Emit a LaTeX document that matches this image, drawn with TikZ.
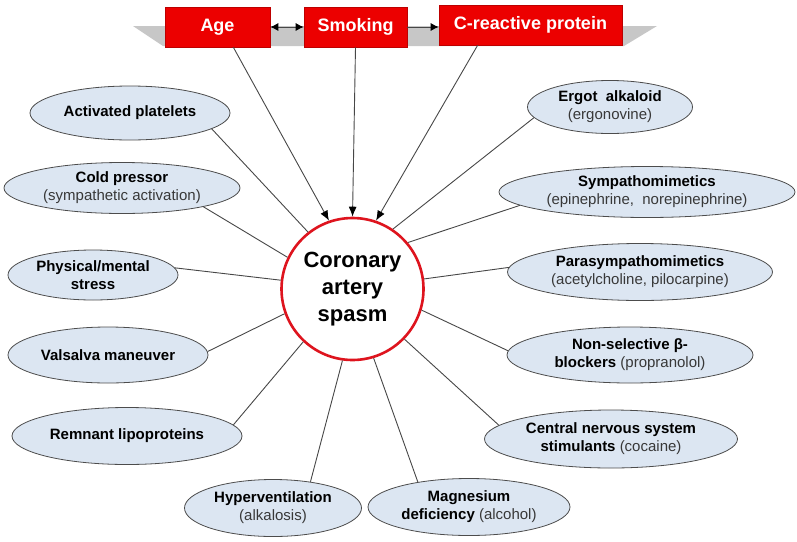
\documentclass[tikz,border=0pt]{standalone}
\usepackage{xcolor}
\usepackage{tikz}
\usepackage{fontspec}
\setmainfont{Liberation Sans}
\setsansfont{Liberation Sans}
\usetikzlibrary{calc}
\usetikzlibrary{shapes.geometric, arrows.meta, positioning}

\definecolor{paleblue}{RGB}{220,230,242}
\definecolor{boxred}{RGB}{236,0,0}
\definecolor{ringred}{RGB}{222,20,30}
\newcommand{\drug}[1]{\textcolor{black!78}{#1}}

\begin{document}
\begin{tikzpicture}[x=1pt,y=-1pt,-,
                    cause node/.style={ellipse,draw=black!70,line width=0.8pt,fill=paleblue,inner sep=0pt,
                                       align=center,font=\sffamily\fontsize{15}{18}\selectfont},
                    risk node/.style={rectangle,fill=boxred,draw=boxred!80!black,line width=0.6pt,inner sep=0pt,
                                      text=white,font=\sffamily\bfseries\fontsize{18}{20}\selectfont},
                    main node/.style={circle,draw=ringred,line width=2.6pt,fill=white,minimum size=142pt,inner sep=0pt,
                                      align=center,font=\sffamily\bfseries\fontsize{22}{27}\selectfont},
                    link/.style={draw=black!72,line width=0.9pt},
                    head/.tip={Latex[length=10pt,width=8pt,color=black]},
                    tip/.style={-head}]

  \useasboundingbox (0,0) rectangle (797,541);

  \fill[black!22] (133,26) -- (657,26) -- (624,46) -- (163,46) -- cycle;

  \node[risk node,minimum width=105pt,minimum height=40pt] (age) at (217.5,27) {Age};
  \node[risk node,minimum width=103pt,minimum height=40pt] (smoke) at (355.5,27) {Smoking};
  \node[risk node,minimum width=183pt,minimum height=40pt] (crp) at (530.5,25) {C-reactive protein};

  \node[main node] (spasm) at (352.5,289) {Coronary\\artery\\spasm};

  \node[cause node,minimum width=200pt,minimum height=54pt] (platelet) at (130,113) {\bfseries Activated platelets};
  \node[cause node,minimum width=236pt,minimum height=51pt] (cold) at (122,188) {\bfseries Cold pressor\\\drug{(sympathetic activation)}};
  \node[cause node,minimum width=170pt,minimum height=50pt] (stress) at (93,275) {\bfseries Physical/mental\\\bfseries stress};
  \node[cause node,minimum width=200pt,minimum height=56pt] (valsalva) at (108,355) {\bfseries Valsalva maneuver};
  \node[cause node,minimum width=230pt,minimum height=57pt] (remnant) at (127,436) {\bfseries Remnant lipoproteins};
  \node[cause node,minimum width=177pt,minimum height=57pt] (hypervent) at (273,508) {\bfseries Hyperventilation\\\drug{(alkalosis)}};
  \node[cause node,minimum width=202pt,minimum height=57pt] (magnes) at (469,507) {\bfseries Magnesium\\\textbf{deficiency} \drug{(alcohol)}};
  \node[cause node,minimum width=253pt,minimum height=58pt] (cns) at (611,439) {\bfseries Central nervous system\\\textbf{stimulants} \drug{(cocaine)}};
  \node[cause node,minimum width=246pt,minimum height=56pt] (blocker) at (630,355) {\bfseries Non-selective β-\\\textbf{blockers} \drug{(propranolol)}};
  \node[cause node,minimum width=265pt,minimum height=57pt] (parasym) at (640,272) {\bfseries Parasympathomimetics\\\drug{(acetylcholine, pilocarpine)}};
  \node[cause node,minimum width=296pt,minimum height=51pt] (sympath) at (647,192) {\bfseries Sympathomimetics\\\drug{(epinephrine,\ \ norepinephrine)}};
  \node[cause node,minimum width=165pt,minimum height=53pt] (ergot) at (610,107) {\bfseries Ergot\ \ alkaloid\\\drug{(ergonovine)}};

  \draw[link,{Latex[length=8pt,width=8pt,color=black]}-{Latex[length=8pt,width=8pt,color=black]}] (age) -- (smoke);
  \draw[link,-{Latex[length=8pt,width=8pt,color=black]}] (smoke.east) -- (crp.west |- smoke.east);

  \path[every edge/.style={link,tip}]
  (age.-52) edge (spasm.109)
  (smoke.south) edge (spasm.90)
  (crp.201) edge (spasm.71);

  \path[every edge/.style={link}]
  (spasm.128) edge (platelet.-11)
  (spasm.154) edge (cold.-13)
  (spasm.173) edge (stress.5)
  (spasm.200) edge (valsalva.2)
  (spasm.227) edge (remnant.6)
  (spasm.262) edge (hypervent.35)
  (spasm.287) edge (magnes.154)
  (spasm.316) edge (cns.173)
  (spasm.343) edge (blocker.178)
  (spasm.8) edge (parasym.178)
  (spasm.40) edge (sympath.186)
  (spasm.56) edge (ergot.188);

\end{tikzpicture}
\end{document}
